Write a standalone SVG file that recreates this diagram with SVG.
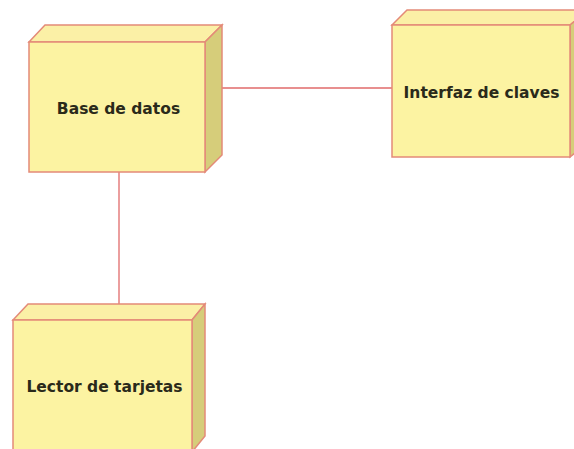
<svg xmlns="http://www.w3.org/2000/svg" width="574" height="449" viewBox="0 0 574 449">
  <style>
    .front { fill: #fcf3a2; stroke: #e48a78; stroke-width: 1.5; }
    .top { fill: #fbf0a6; stroke: #e48a78; stroke-width: 1.5; }
    .side { fill: #d6cd7a; stroke: #e48a78; stroke-width: 1.5; }
    .label { font-family: "DejaVu Sans", Verdana, sans-serif; font-weight: bold; font-size: 15.5px; fill: #2a2a1a; text-anchor: middle; }
    .link { stroke: #e06a6a; stroke-width: 1.3; fill: none; }
  </style>
  <rect width="574" height="449" fill="#ffffff"/>
  <g id="connectors">
    <line class="link" x1="222" y1="88" x2="392" y2="88"/>
    <line class="link" x1="119" y1="172" x2="119" y2="304"/>
  </g>
  <g id="base-de-datos">
    <polygon class="top" points="29,42 45,25 222,25 205,42"/>
    <polygon class="side" points="205,42 222,25 222,155 205,172"/>
    <rect class="front" x="29" y="42" width="176" height="130"/>
    <text class="label" x="118.5" y="113.5">Base de datos</text>
  </g>
  <g id="interfaz-de-claves">
    <polygon class="top" points="392,25 407,10 588,10 570,25"/>
    <polygon class="side" points="570,25 588,10 588,142 570,157"/>
    <rect class="front" x="392" y="25" width="178" height="132"/>
    <text class="label" x="481.5" y="97.5">Interfaz de claves</text>
  </g>
  <g id="lector-de-tarjetas">
    <polygon class="top" points="13,320 28,304 205,304 192,320"/>
    <polygon class="side" points="192,320 205,304 205,436 192,452"/>
    <rect class="front" x="13" y="320" width="179" height="140"/>
    <text class="label" x="104.5" y="391.5">Lector de tarjetas</text>
  </g>
</svg>
